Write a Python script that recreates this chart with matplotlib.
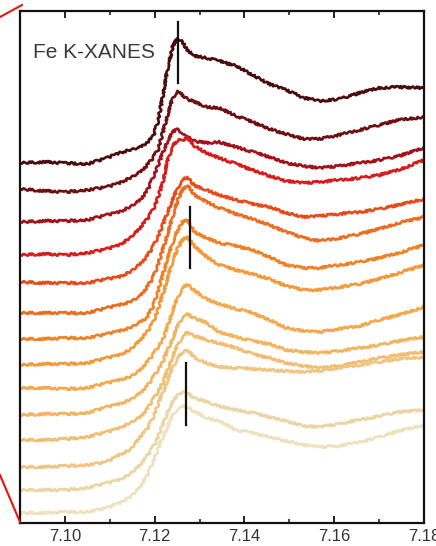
import matplotlib
matplotlib.use("Agg")
import matplotlib.pyplot as plt
import numpy as np
from matplotlib.lines import Line2D

plt.rcParams["font.family"] = ["Liberation Sans", "DejaVu Sans"]

# Shared energy grid (keV)
energy = [7.0900, 7.0955, 7.1000, 7.1049, 7.1093, 7.1122, 7.1145, 7.1167, 7.1182, 7.1196,
          7.1207, 7.1218, 7.1229, 7.1240, 7.1251, 7.1262, 7.1273, 7.1289, 7.1316, 7.1344,
          7.1382, 7.1418, 7.1456, 7.1493, 7.1533, 7.1567, 7.1611, 7.1656, 7.1700, 7.1744, 7.1800]

# Offset, normalised absorption of the stacked spectra (top to bottom)
s01 = [3.60, 3.61, 3.60, 3.59, 3.65, 3.70, 3.73, 3.76, 3.80, 3.86, 4.01, 4.26, 4.55, 4.76, 4.85, 4.81, 4.73, 4.67, 4.65, 4.62, 4.57, 4.48, 4.39, 4.33, 4.25, 4.22, 4.24, 4.30, 4.35, 4.36, 4.35]
s02 = [3.34, 3.32, 3.31, 3.33, 3.36, 3.40, 3.45, 3.51, 3.57, 3.65, 3.73, 3.90, 4.08, 4.25, 4.32, 4.28, 4.24, 4.21, 4.16, 4.15, 4.07, 4.01, 3.94, 3.89, 3.84, 3.84, 3.88, 3.93, 3.98, 4.03, 4.06]
s03 = [3.01, 3.02, 3.02, 3.03, 3.08, 3.11, 3.16, 3.23, 3.31, 3.45, 3.57, 3.70, 3.82, 3.91, 3.94, 3.90, 3.86, 3.82, 3.80, 3.81, 3.76, 3.71, 3.66, 3.60, 3.57, 3.55, 3.57, 3.60, 3.63, 3.67, 3.75]
s04 = [2.68, 2.69, 2.68, 2.70, 2.74, 2.78, 2.85, 2.95, 3.03, 3.13, 3.25, 3.40, 3.63, 3.77, 3.83, 3.83, 3.85, 3.77, 3.70, 3.65, 3.59, 3.53, 3.47, 3.42, 3.40, 3.41, 3.43, 3.45, 3.48, 3.53, 3.63]
s05 = [2.41, 2.40, 2.40, 2.40, 2.44, 2.46, 2.51, 2.59, 2.66, 2.76, 2.86, 2.98, 3.11, 3.23, 3.35, 3.43, 3.46, 3.37, 3.33, 3.28, 3.23, 3.19, 3.16, 3.10, 3.06, 3.07, 3.09, 3.11, 3.14, 3.18, 3.24]
s06 = [2.10, 2.10, 2.10, 2.10, 2.15, 2.18, 2.21, 2.27, 2.35, 2.45, 2.58, 2.73, 2.89, 3.06, 3.23, 3.33, 3.38, 3.28, 3.21, 3.15, 3.09, 3.04, 2.98, 2.91, 2.85, 2.82, 2.85, 2.89, 2.94, 3.00, 3.06]
s07 = [1.84, 1.84, 1.85, 1.85, 1.89, 1.92, 1.95, 2.01, 2.05, 2.16, 2.31, 2.48, 2.65, 2.80, 2.93, 3.01, 3.03, 2.91, 2.85, 2.80, 2.77, 2.73, 2.66, 2.58, 2.55, 2.55, 2.58, 2.61, 2.65, 2.70, 2.78]
s08 = [1.58, 1.59, 1.59, 1.60, 1.65, 1.68, 1.73, 1.83, 1.90, 2.00, 2.13, 2.28, 2.45, 2.62, 2.75, 2.83, 2.86, 2.77, 2.66, 2.58, 2.53, 2.49, 2.44, 2.37, 2.33, 2.33, 2.36, 2.39, 2.44, 2.50, 2.58]
s09 = [1.35, 1.35, 1.34, 1.35, 1.40, 1.43, 1.46, 1.53, 1.60, 1.68, 1.76, 1.83, 1.97, 2.12, 2.25, 2.35, 2.39, 2.32, 2.24, 2.19, 2.14, 2.10, 2.03, 1.95, 1.92, 1.91, 1.94, 1.97, 2.03, 2.08, 2.16]
s10 = [1.08, 1.09, 1.09, 1.10, 1.16, 1.19, 1.23, 1.30, 1.36, 1.45, 1.53, 1.61, 1.73, 1.84, 1.97, 2.06, 2.09, 2.05, 2.00, 1.91, 1.86, 1.82, 1.79, 1.73, 1.71, 1.70, 1.72, 1.75, 1.78, 1.82, 1.86]
s11 = [0.83, 0.83, 0.84, 0.86, 0.91, 0.95, 1.00, 1.06, 1.13, 1.23, 1.31, 1.40, 1.53, 1.66, 1.78, 1.86, 1.91, 1.87, 1.83, 1.80, 1.75, 1.69, 1.65, 1.60, 1.57, 1.55, 1.57, 1.61, 1.65, 1.68, 1.71]
s12 = [0.56, 0.56, 0.57, 0.58, 0.61, 0.68, 0.73, 0.86, 0.93, 1.05, 1.18, 1.30, 1.43, 1.55, 1.65, 1.71, 1.73, 1.65, 1.60, 1.56, 1.55, 1.54, 1.53, 1.52, 1.51, 1.52, 1.55, 1.58, 1.61, 1.64, 1.66]
s13 = [0.33, 0.33, 0.33, 0.35, 0.40, 0.43, 0.49, 0.58, 0.66, 0.76, 0.86, 0.98, 1.11, 1.21, 1.28, 1.32, 1.30, 1.25, 1.21, 1.17, 1.13, 1.10, 1.06, 1.02, 0.97, 0.96, 0.99, 1.03, 1.07, 1.11, 1.13]
s14 = [0.10, 0.10, 0.11, 0.11, 0.15, 0.20, 0.26, 0.36, 0.46, 0.61, 0.73, 0.86, 0.96, 1.08, 1.14, 1.17, 1.16, 1.11, 1.05, 1.02, 0.93, 0.90, 0.86, 0.82, 0.78, 0.76, 0.77, 0.81, 0.86, 0.92, 0.98]
spectra = [s01, s02, s03, s04, s05, s06, s07, s08, s09, s10, s11, s12, s13, s14]

colors = ["#4b0c0c", "#6e1012", "#a3121a", "#d81c1c", "#e84a1a", "#ee6c1f", "#f08226",
          "#f49838", "#f3a84c", "#f2b45e", "#f1bd72", "#f0c584", "#ecd5a4", "#efe1bd"]

# White-line markers: energy, lower, upper
marker_e = [7.1253, 7.1278, 7.1269]
marker_lo = [4.40, 2.55, 0.98]
marker_hi = [5.01, 3.16, 1.60]

xticks_major = [7.10, 7.12, 7.14, 7.16, 7.18]
xtick_labels = ["7.10", "7.12", "7.14", "7.16", "7.18"]
xticks_minor = [7.09, 7.11, 7.13, 7.15, 7.17]

fig = plt.figure(figsize=(4.36, 5.46), dpi=100)
ax = fig.add_axes([20 / 436, 23 / 546, 404 / 436, 512 / 546])

for s, c in zip(spectra, colors):
    ln, = ax.plot(energy, s, color=c, lw=1.9, solid_joinstyle="round")
    ln.set_sketch_params(scale=1.1, length=5.0, randomness=4.0)

for e, lo, hi in zip(marker_e, marker_lo, marker_hi):
    ax.plot([e, e], [lo, hi], color="#111111", lw=1.6)

ax.set_xlim(7.09, 7.18)
ax.set_ylim(0, 5.12)
ax.set_xticks(xticks_major)
ax.set_xticklabels(xtick_labels)
ax.set_xticks(xticks_minor, minor=True)
ax.set_yticks([])
ax.tick_params(axis="x", which="both", direction="in", top=True, bottom=True,
               labelsize=12, labelcolor="#333333", color="#111111", pad=4)
ax.tick_params(axis="x", which="major", length=5, width=1.3)
ax.tick_params(axis="x", which="minor", length=3, width=1.1)
for sp in ax.spines.values():
    sp.set_linewidth(1.6)
    sp.set_color("#111111")

ax.text(0.032, 0.918, "Fe K-XANES", transform=ax.transAxes, fontsize=15,
        color="#3a3a3a", ha="left", va="center")

# red zoom connector lines outside the frame
fig.add_artist(Line2D([0 / 436, 22 / 436], [1 - 17 / 546, 1 - 5 / 546],
                      transform=fig.transFigure, color="#e8140e", lw=1.5))
fig.add_artist(Line2D([0 / 436, 20 / 436], [1 - 475 / 546, 1 - 522 / 546],
                      transform=fig.transFigure, color="#e8140e", lw=1.5))

fig.savefig("out.png", dpi=100)
